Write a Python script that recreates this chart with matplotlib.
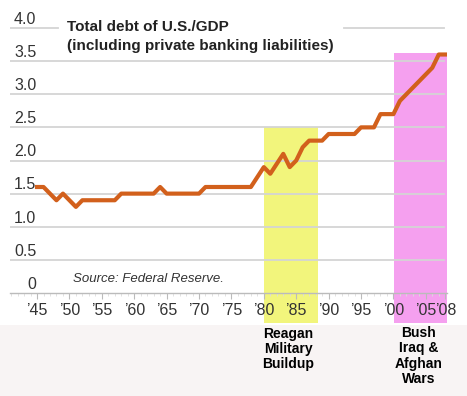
import matplotlib.pyplot as plt
import matplotlib.transforms as mtransforms
from matplotlib.patches import Rectangle

years = list(range(1945, 2009))
debt_ratio = [1.6, 1.6, 1.5, 1.4, 1.5, 1.4, 1.3, 1.4, 1.4, 1.4,
              1.4, 1.4, 1.4, 1.5, 1.5, 1.5, 1.5, 1.5, 1.5, 1.6,
              1.5, 1.5, 1.5, 1.5, 1.5, 1.5, 1.6, 1.6, 1.6, 1.6,
              1.6, 1.6, 1.6, 1.6, 1.75, 1.9, 1.8, 1.95, 2.1, 1.9,
              2.0, 2.2, 2.3, 2.3, 2.3, 2.4, 2.4, 2.4, 2.4, 2.4,
              2.5, 2.5, 2.5, 2.7, 2.7, 2.7, 2.9, 3.0, 3.1, 3.2,
              3.3, 3.4, 3.6, 3.6]

tick_years = [1945, 1950, 1955, 1960, 1965, 1970, 1975, 1980, 1985,
              1990, 1995, 2000, 2005, 2008]
tick_labels = ['\u201945', '\u201950', '\u201955', '\u201960', '\u201965',
               '\u201970', '\u201975', '\u201980', '\u201985', '\u201990',
               '\u201995', '\u201900', '\u201905', '\u201908']
y_ticks = [0, 0.5, 1.0, 1.5, 2.0, 2.5, 3.0, 3.5, 4.0]
y_labels = ['0', '0.5', '1.0', '1.5', '2.0', '2.5', '3.0', '3.5', '4.0']

reagan = (1980, 1988.3)
bush = (2000.1, 2008.3)

narrow = ['Liberation Sans Narrow', 'Liberation Sans', 'DejaVu Sans']
plt.rcParams['font.family'] = ['Liberation Sans', 'DejaVu Sans']

W, H = 467, 396
fig = plt.figure(figsize=(W / 100, H / 100), dpi=100)
fig.patch.set_facecolor('white')

# light band at the bottom behind the notes
fig.patches.append(Rectangle((0, 0), 1, (H - 325) / H, transform=fig.transFigure,
                             facecolor='#f8f4f4', edgecolor='none', zorder=0))

# axes: x 10..447 px, y 293 (value 0) .. 10 px
ax = fig.add_axes([10 / W, (H - 293) / H, 437 / W, (293 - 10) / H])
x0, x1 = 1940.83, 2008.27
ax.set_xlim(x0, x1)
ytop = 4.0 * 283 / 265
ax.set_ylim(0, ytop)
ax.patch.set_alpha(0)

below = -30 / 283
ax.axvspan(*reagan, ymin=below, ymax=2.5 / ytop, color='#f2f57c',
           lw=0, clip_on=False, zorder=0)
ax.axvspan(*bush, ymin=below, ymax=3.62 / ytop, color='#f5a0ef',
           lw=0, clip_on=False, zorder=0)

grid_kw = dict(color='#d4d4d4', lw=1.3, zorder=1)
for v in y_ticks[1:]:
    if v == 4.0:
        # top line is broken by the title
        ax.plot([x0, 1948.3], [v, v], **grid_kw)
        ax.plot([1992.3, 2007.8], [v, v], **grid_kw)
    else:
        ax.plot([x0, 2007.8], [v, v], **grid_kw)

ax.plot(years, debt_ratio, color='#d2601c', lw=3, zorder=3)

for s in ['top', 'right', 'left']:
    ax.spines[s].set_visible(False)
ax.spines['bottom'].set_color('#bbbbbb')
ax.spines['bottom'].set_linewidth(1)

ax.set_xticks(tick_years)
ax.set_xticklabels(tick_labels, family=narrow)
ax.set_xticks(range(1941, 2009), minor=True)
ax.tick_params(axis='x', which='major', length=4, color='#bbbbbb', labelsize=11.5,
               labelcolor='#333333', pad=3)
ax.tick_params(axis='x', which='minor', length=2, color='#dddddd')

ax.set_yticks(y_ticks)
ax.set_yticklabels(y_labels, family=narrow)
ax.tick_params(axis='y', length=0, pad=-19, labelsize=11.5, labelcolor='#333333')
offset = mtransforms.ScaledTranslation(0, 3 / 72, fig.dpi_scale_trans)
for lab in ax.get_yticklabels():
    lab.set_verticalalignment('baseline')
    lab.set_transform(lab.get_transform() + offset)

fig.text(67 / W, 1 - 27 / H, 'Total debt of U.S./GDP', fontsize=11,
         fontweight='bold', color='#222222', va='center', ha='left')
fig.text(67 / W, 1 - 46 / H, '(including private banking liabilities)', fontsize=11,
         fontweight='bold', color='#222222', va='center', ha='left')
fig.text(73 / W, 1 - 279 / H, 'Source: Federal Reserve.', fontsize=9.5,
         style='italic', color='#333333', va='center', ha='left')

fig.text(288 / W, 1 - 349 / H, 'Reagan\nMilitary\nBuildup', fontsize=10,
         fontweight='bold', color='black', ha='center', va='center',
         linespacing=1.1)
fig.text(419 / W, 1 - 356 / H, 'Bush\nIraq &\nAfghan\nWars', fontsize=10,
         fontweight='bold', color='black', ha='center', va='center',
         linespacing=1.1)

fig.savefig('out.png', dpi=100)
